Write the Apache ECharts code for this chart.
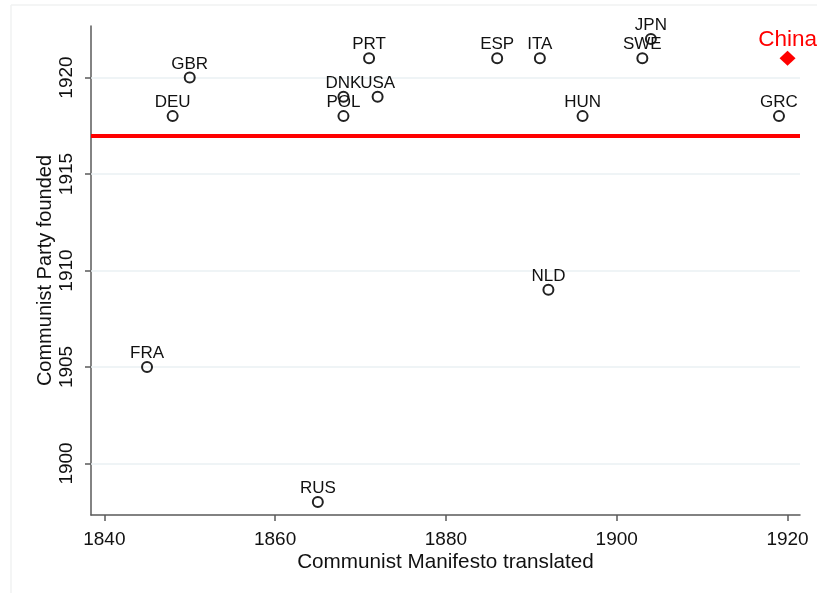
<!DOCTYPE html>
<html><head><meta charset="utf-8">
<script src="https://cdn.jsdelivr.net/npm/echarts@6/dist/echarts.min.js"></script>
<style>html,body{margin:0;padding:0;background:#fff}#c{width:817px;height:593px}</style>
</head><body><div id="c"></div>
<script>
const countries = ['GBR','DEU','FRA','RUS','PRT','DNK','POL','USA','ESP','ITA','NLD','HUN','SWE','JPN','GRC'];
const manifestoYear = [1850,1848,1845,1865,1871,1868,1868,1872,1886,1891,1892,1896,1903,1904,1919];
const partyYear = [1920,1918,1905,1898,1921,1919,1918,1919,1921,1921,1909,1918,1921,1922,1918];
const chinaPoint = {name:'China', x:1920, y:1921};
const refLineYear = 1917;
const xTicks = [1840,1860,1880,1900,1920];
const yTicks = [1900,1905,1910,1915,1920];

const FONT = 'Liberation Sans, Arial, sans-serif';
const chart = echarts.init(document.getElementById('c'));
chart.setOption({
  animation:false,
  backgroundColor:'#fff',
  graphic:[
    {type:'line', shape:{x1:11,y1:5,x2:817,y2:5}, style:{stroke:'#f0f2f2',lineWidth:1.5}},
    {type:'line', shape:{x1:11,y1:5,x2:11,y2:593}, style:{stroke:'#f0f2f2',lineWidth:1.5}}
  ],
  grid:{left:91,right:17,top:26,bottom:78,containLabel:false},
  xAxis:{type:'value',min:1838.44,max:1921.46,
    name:'Communist Manifesto translated',nameLocation:'middle',nameGap:37,nameMoveOverlap:false,
    nameTextStyle:{fontFamily:FONT,fontSize:20.7,color:'#111'},
    axisLine:{show:true,onZero:false,lineStyle:{color:'#5a5a5a',width:1.5}},
    axisTick:{show:true,length:6,lineStyle:{color:'#5a5a5a',width:1.5},customValues:xTicks},
    axisLabel:{fontFamily:FONT,fontSize:19,color:'#111',margin:15,customValues:xTicks,formatter:v=>String(v)},
    splitLine:{show:false}
  },
  yAxis:{type:'value',min:1897.33,max:1922.67,
    name:'Communist Party founded',nameLocation:'middle',nameGap:36,nameRotate:90,nameMoveOverlap:false,
    nameTextStyle:{fontFamily:FONT,fontSize:20,color:'#111'},
    axisLine:{show:true,onZero:false,lineStyle:{color:'#5a5a5a',width:1.5}},
    axisTick:{show:true,length:6,lineStyle:{color:'#5a5a5a',width:1.5},customValues:yTicks},
    axisLabel:{fontFamily:FONT,fontSize:19,color:'#111',margin:15,rotate:90,customValues:yTicks,formatter:v=>String(v)},
    splitLine:{show:false}
  },
  series:[
    {type:'scatter',data:[],z:1,
     markLine:{silent:true,symbol:'none',label:{show:false},z:1,
       lineStyle:{color:'#eaf1f3',width:1.5,type:'solid'},
       data:yTicks.map(v=>({yAxis:v}))}
    },
    {type:'scatter',data:[],z:2,
     markLine:{silent:true,symbol:'none',label:{show:false},z:2,
       lineStyle:{color:'#ff0000',width:4,type:'solid',opacity:1},
       data:[{yAxis:refLineYear}]}
    },
    {type:'scatter',
     data:countries.map((c,i)=>({name:c,value:[manifestoYear[i],partyYear[i]]})),
     symbol:'circle',symbolSize:10,
     itemStyle:{color:'rgba(255,255,255,0)',borderColor:'#222',borderWidth:2,opacity:1},
     label:{show:true,position:'top',distance:-1,formatter:'{b}',fontFamily:FONT,fontSize:17,color:'#111'},
     labelLayout:{hideOverlap:false},
     z:3
    },
    {type:'scatter',
     data:[{name:chinaPoint.name,value:[chinaPoint.x,chinaPoint.y]}],
     symbol:'diamond',symbolSize:[16,15],
     itemStyle:{color:'#ff0000',opacity:1},
     label:{show:true,position:'top',distance:-1,formatter:'{b}',fontFamily:FONT,fontSize:22.5,color:'#ff0000'},
     z:4
    }
  ]
});
</script></body></html>
